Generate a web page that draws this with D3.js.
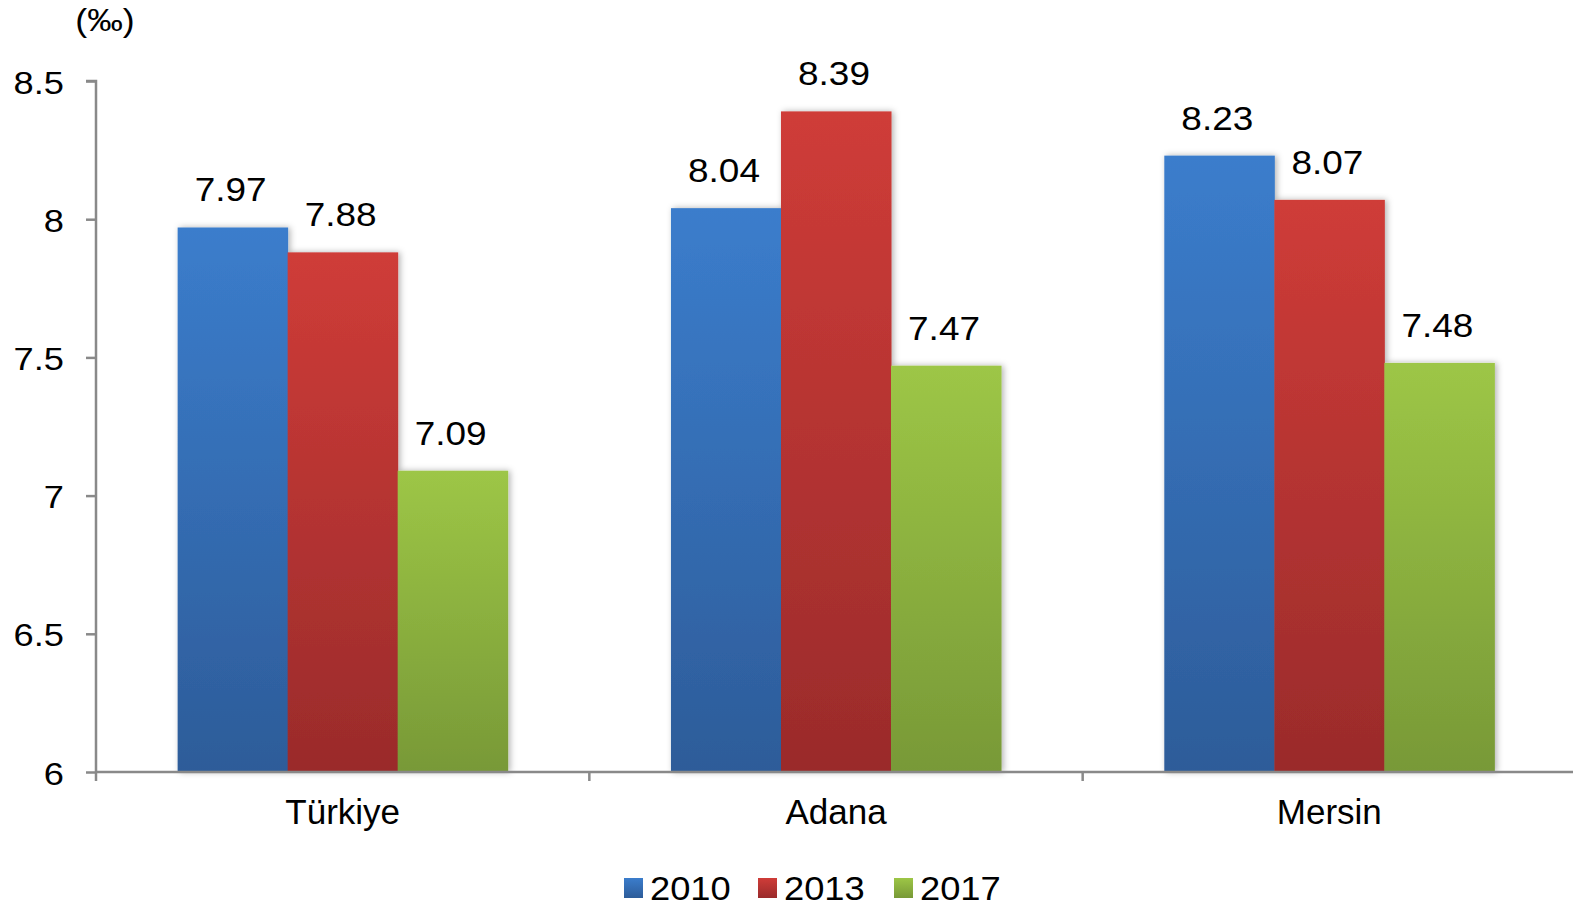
<!DOCTYPE html>
<html lang="tr">
<head>
<meta charset="UTF-8">
<title>Bar chart</title>
<script src="https://d3js.org/d3.v7.min.js"></script>
<style>
  body { margin: 0; background: #fff; font-family: "Liberation Sans", Arial, sans-serif; }
  svg text { fill: #000; }
</style>
</head>
<body>
<svg id="chart" width="1573" height="907"></svg>
<script>
// data
const categories = ["Türkiye", "Adana", "Mersin"];
const years = ["2010", "2013", "2017"];
const v2010 = [7.97, 8.04, 8.23];
const v2013 = [7.88, 8.39, 8.07];
const v2017 = [7.09, 7.47, 7.48];
const yTicks = [6, 6.5, 7, 7.5, 8, 8.5];
const unitLabel = "(‰)";

const seriesValues = [v2010, v2013, v2017];
const rows = categories.map((c, i) => ({
    cat: c,
    vals: years.map((y, j) => ({ year: y, value: seriesValues[j][i] }))
}));

const svg = d3.select("#chart");
const width = +svg.attr("width");

// colours (top, bottom of gradient)
const colours = {
    "2010": ["#3b7dcc", "#2d5c99"],
    "2013": ["#cf3c38", "#9a2b2b"],
    "2017": ["#9dc646", "#789937"]
};

const defs = svg.append("defs");
years.forEach(y => {
    const g = defs.append("linearGradient")
        .attr("id", "grad" + y)
        .attr("x1", 0).attr("y1", 0).attr("x2", 0).attr("y2", 1);
    g.append("stop").attr("offset", "0%").attr("stop-color", colours[y][0]);
    g.append("stop").attr("offset", "100%").attr("stop-color", colours[y][1]);
});
const shadow = defs.append("filter").attr("id", "shadow")
    .attr("x", "-10%").attr("y", "-10%").attr("width", "120%").attr("height", "120%");
shadow.append("feDropShadow")
    .attr("dx", 2).attr("dy", 0).attr("stdDeviation", 3)
    .attr("flood-color", "#000").attr("flood-opacity", 0.3);

// scales
const x0 = d3.scaleBand().domain(categories).range([96, 1576]).paddingInner(0).paddingOuter(0);
const x1 = d3.scaleBand().domain(years).range([0, x0.bandwidth()]).paddingInner(0).paddingOuter(0.742);
const y = d3.scaleLinear().domain([6, 8.5]).range([772, 81]);

const axisColour = "#898989";

// bars
const groups = svg.append("g").selectAll("g")
    .data(rows).join("g")
    .attr("transform", d => `translate(${x0(d.cat)},0)`);

groups.append("g").attr("filter", "url(#shadow)")
    .selectAll("rect")
    .data(d => d.vals).join("rect")
    .attr("x", d => x1(d.year))
    .attr("y", d => y(d.value))
    .attr("width", x1.bandwidth() + 0.5)
    .attr("height", d => y(6) - y(d.value))
    .attr("fill", d => `url(#grad${d.year})`);

// value labels
groups.selectAll("text.val")
    .data(d => d.vals).join("text")
    .attr("class", "val")
    .attr("transform", d => `translate(${x1(d.year) + x1.bandwidth() / 2 - 2},${y(d.value) - 26}) scale(1.12,1)`)
    .attr("text-anchor", "middle")
    .style("font-size", "33px")
    .text(d => d.value.toFixed(2));

// y axis
const yAxis = svg.append("g")
    .attr("transform", "translate(96,0)")
    .call(d3.axisLeft(y).tickValues(yTicks).tickSize(10).tickFormat(d3.format("~g")));
yAxis.select(".domain").attr("stroke", axisColour).attr("stroke-width", 2.5)
    .attr("d", `M-10,${y(8.5)}H0V${y(6)}`);
yAxis.selectAll(".tick line").attr("stroke", axisColour).attr("stroke-width", 2.5);
yAxis.selectAll(".tick text")
    .attr("x", null).attr("dy", null)
    .attr("transform", "translate(-32,12) scale(1.17,1)")
    .style("font-size", "31px")
    .style("font-family", "'Liberation Sans', Arial, sans-serif")
    .attr("fill", "#000");

// x axis
const xg = svg.append("g");
xg.append("line")
    .attr("x1", 96).attr("x2", width)
    .attr("y1", y(6)).attr("y2", y(6))
    .attr("stroke", axisColour).attr("stroke-width", 2.5);
xg.selectAll("line.tick")
    .data(categories).join("line")
    .attr("class", "tick")
    .attr("x1", d => x0(d)).attr("x2", d => x0(d))
    .attr("y1", y(6)).attr("y2", y(6) + 9)
    .attr("stroke", axisColour).attr("stroke-width", 2.5);
xg.selectAll("text")
    .data(categories).join("text")
    .attr("x", d => x0(d) + x0.bandwidth() / 2)
    .attr("y", 824)
    .attr("text-anchor", "middle")
    .style("font-size", "35px")
    .text(d => d);

// unit label
svg.append("text")
    .attr("transform", "translate(105,31) scale(1.15,1)")
    .attr("text-anchor", "middle")
    .style("font-size", "31px")
    .text(unitLabel);

// legend
const legend = svg.append("g");
const legendX = [624, 758, 894];
years.forEach((yr, i) => {
    const item = legend.append("g").attr("transform", `translate(${legendX[i]},878)`);
    item.append("rect").attr("width", 19).attr("height", 20)
        .attr("fill", `url(#grad${yr})`);
    item.append("text")
        .attr("transform", "translate(26,22) scale(1.1,1)")
        .style("font-size", "33px")
        .text(yr);
});
</script>
</body>
</html>
